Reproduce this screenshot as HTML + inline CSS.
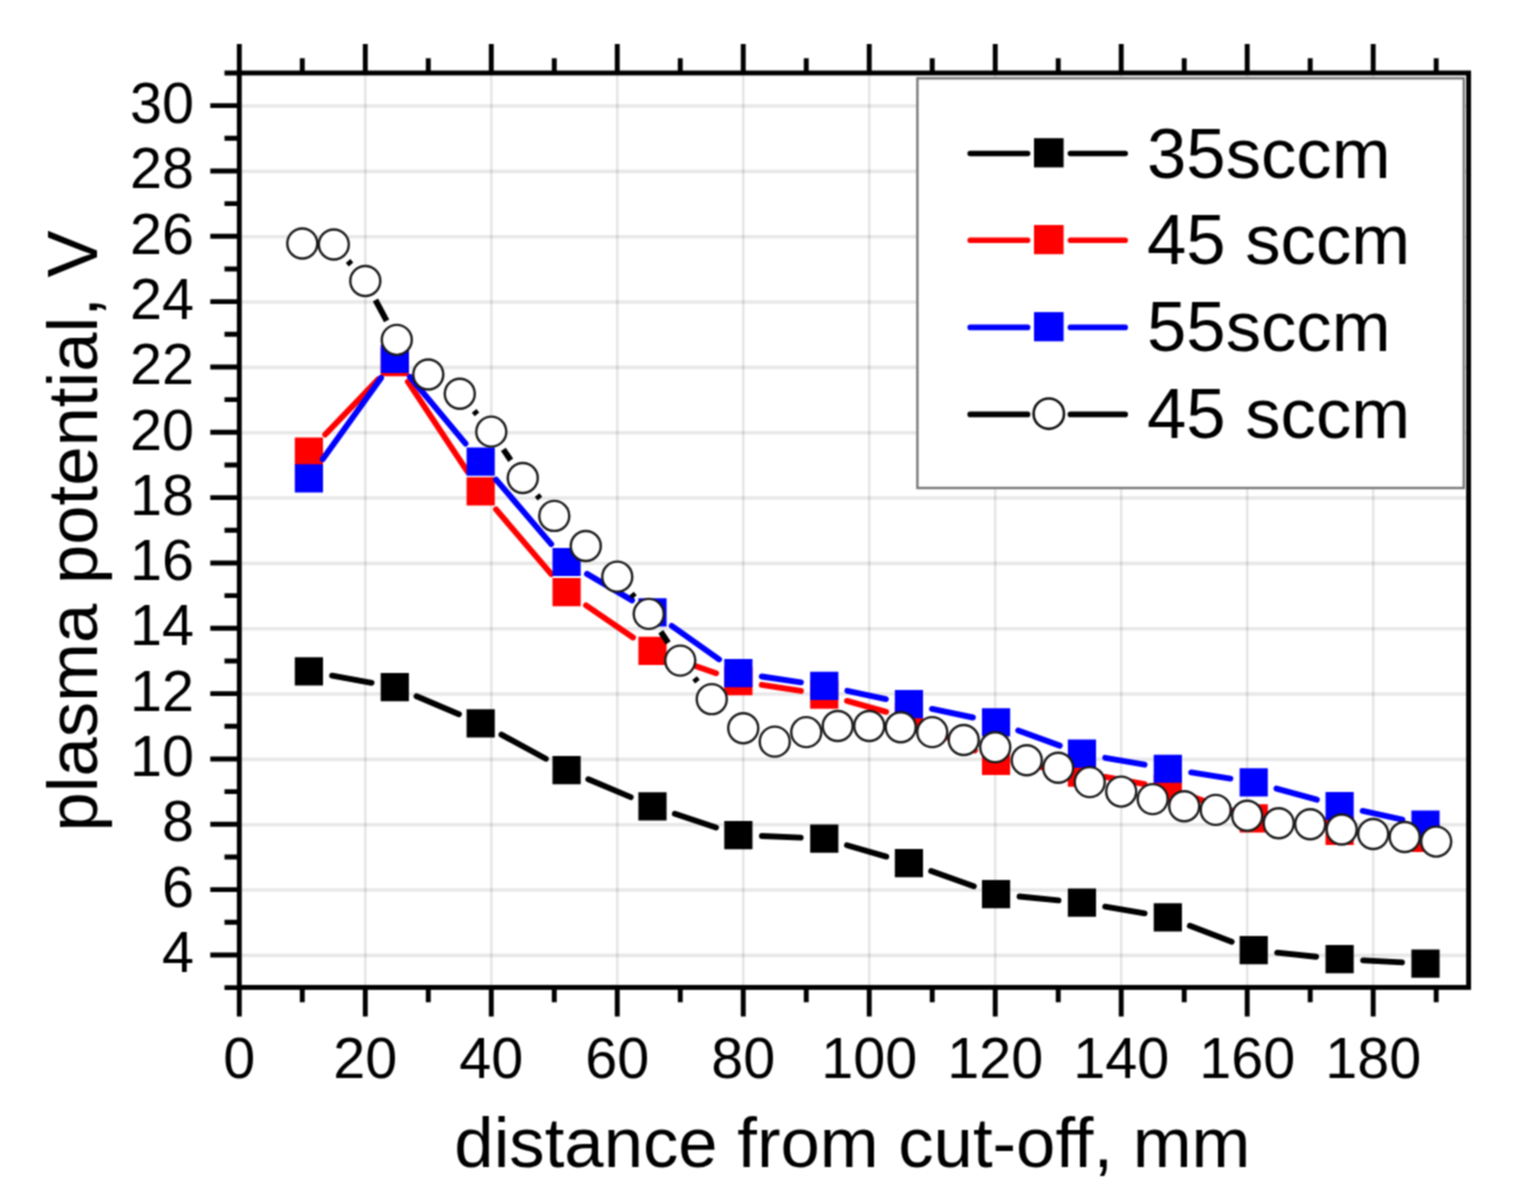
<!DOCTYPE html>
<html><head><meta charset="utf-8"><title>plasma potential</title>
<style>
html,body{margin:0;padding:0;background:#fff;}
body{width:1520px;height:1204px;overflow:hidden;}
svg{display:block;font-family:"Liberation Sans",Arial,sans-serif;}
text{fill:#000;}
</style></head><body>
<svg width="1520" height="1204" viewBox="0 0 1520 1204">
<defs><filter id="soft" x="0" y="0" width="1" height="1" filterUnits="objectBoundingBox" color-interpolation-filters="sRGB"><feConvolveMatrix order="3" kernelMatrix="1 2 1 2 4 2 1 2 1" edgeMode="duplicate"/></filter></defs>
<g filter="url(#soft)">
<rect width="1520" height="1204" fill="#fff"/>
<path d="M365.29 72.98V987.40M491.28 72.98V987.40M617.26 72.98V987.40M743.25 72.98V987.40M869.24 72.98V987.40M995.23 72.98V987.40M1121.22 72.98V987.40M1247.20 72.98V987.40M1373.19 72.98V987.40" stroke="#000" stroke-opacity="0.10" stroke-width="2.5" fill="none"/>
<path d="M239.30 955.34H1468.60M239.30 890.00H1468.60M239.30 824.68H1468.60M239.30 759.35H1468.60M239.30 694.01H1468.60M239.30 628.69H1468.60M239.30 563.36H1468.60M239.30 498.03H1468.60M239.30 432.70H1468.60M239.30 367.37H1468.60M239.30 302.03H1468.60M239.30 236.71H1468.60M239.30 171.38H1468.60M239.30 106.05H1468.60" stroke="#000" stroke-opacity="0.09" stroke-width="3.6" fill="none"/>
<path d="M332.12 675.64L371.58 682.84M416.54 696.26L458.95 714.16M501.43 734.62L545.85 758.78M588.33 779.23L630.74 797.13M674.86 813.80L715.99 827.56M761.95 836.04L800.68 837.66M846.93 845.21L886.26 856.59M931.16 871.07L973.82 886.26M1019.53 896.50L1058.45 900.35M1105.20 906.65L1144.57 913.39M1189.88 925.80L1231.68 941.77M1277.20 952.65L1316.14 956.73M1363.19 960.39L1401.94 962.38" stroke="#000" stroke-width="5.9" stroke-linecap="round" fill="none"/>
<path d="M294.81 657.30h28.2v28.2h-28.2zM380.70 672.98h28.2v28.2h-28.2zM466.59 709.24h28.2v28.2h-28.2zM552.49 755.95h28.2v28.2h-28.2zM638.38 792.21h28.2v28.2h-28.2zM724.27 820.95h28.2v28.2h-28.2zM810.16 824.55h28.2v28.2h-28.2zM894.83 849.05h28.2v28.2h-28.2zM981.95 880.08h28.2v28.2h-28.2zM1067.84 888.57h28.2v28.2h-28.2zM1153.73 903.27h28.2v28.2h-28.2zM1239.62 936.10h28.2v28.2h-28.2zM1325.52 945.08h28.2v28.2h-28.2zM1411.41 949.49h28.2v28.2h-28.2z" fill="#000"/>
<path d="M325.25 434.54L378.46 379.09M407.86 381.73L467.64 471.76M496.02 509.37L551.26 574.08M586.06 605.36L633.00 637.49M674.73 658.69L716.12 673.33M761.69 684.84L800.94 690.96M847.00 700.91L886.19 711.80M930.11 728.52L974.86 750.50M1019.43 764.11L1058.56 769.46M1105.16 776.90L1144.62 784.11M1190.11 796.14L1231.45 810.60M1277.08 821.77L1316.26 827.43M1363.13 832.78L1401.99 836.03" stroke="#f00" stroke-width="5.9" stroke-linecap="round" fill="none"/>
<path d="M294.81 437.47h28.2v28.2h-28.2zM380.70 347.97h28.2v28.2h-28.2zM466.59 477.32h28.2v28.2h-28.2zM552.49 577.93h28.2v28.2h-28.2zM638.38 636.72h28.2v28.2h-28.2zM724.27 667.10h28.2v28.2h-28.2zM810.16 680.49h28.2v28.2h-28.2zM894.83 704.01h28.2v28.2h-28.2zM981.95 746.80h28.2v28.2h-28.2zM1067.84 758.56h28.2v28.2h-28.2zM1153.73 774.24h28.2v28.2h-28.2zM1239.62 804.30h28.2v28.2h-28.2zM1325.52 816.71h28.2v28.2h-28.2zM1411.41 823.89h28.2v28.2h-28.2z" fill="#f00"/>
<path d="M322.68 459.19L381.03 377.97M409.92 376.92L465.57 443.58M496.05 479.62L551.23 544.05M586.95 573.90L632.11 600.35M671.74 625.91L719.10 659.41M761.71 676.50L800.92 682.31M847.33 690.76L885.86 699.08M932.02 708.92L972.95 717.51M1018.22 730.45L1059.77 745.63M1105.19 757.79L1144.58 764.68M1191.14 772.42L1230.41 778.62M1276.47 788.57L1316.87 799.71M1362.68 810.98L1402.44 819.60" stroke="#00f" stroke-width="5.9" stroke-linecap="round" fill="none"/>
<path d="M294.81 464.25h28.2v28.2h-28.2zM380.70 344.70h28.2v28.2h-28.2zM466.59 447.59h28.2v28.2h-28.2zM552.49 547.88h28.2v28.2h-28.2zM638.38 598.18h28.2v28.2h-28.2zM724.27 658.94h28.2v28.2h-28.2zM810.16 671.68h28.2v28.2h-28.2zM894.83 689.97h28.2v28.2h-28.2zM981.95 708.26h28.2v28.2h-28.2zM1067.84 739.62h28.2v28.2h-28.2zM1153.73 754.64h28.2v28.2h-28.2zM1239.62 768.20h28.2v28.2h-28.2zM1325.52 791.88h28.2v28.2h-28.2zM1411.41 810.50h28.2v28.2h-28.2z" fill="#00f"/>
<path d="M348.04 261.02L351.04 264.51M375.44 300.01L386.63 320.90M474.06 410.93L477.00 414.46M503.35 449.43L510.69 460.24M537.05 495.20L539.99 498.74M631.53 593.54L634.50 597.05M660.78 631.74L668.24 642.80M694.55 678.11L697.46 681.68" stroke="#000" stroke-width="5.9" stroke-linecap="butt" fill="none"/>
<g fill="#fff" stroke="#1a1a1a" stroke-width="2.40"><circle cx="302.29" cy="243.49" r="15.0"/><circle cx="333.79" cy="244.47" r="15.0"/><circle cx="365.29" cy="281.06" r="15.0"/><circle cx="396.79" cy="339.85" r="15.0"/><circle cx="428.28" cy="374.48" r="15.0"/><circle cx="459.78" cy="393.75" r="15.0"/><circle cx="491.28" cy="431.64" r="15.0"/><circle cx="522.77" cy="478.03" r="15.0"/><circle cx="554.27" cy="515.92" r="15.0"/><circle cx="585.77" cy="545.97" r="15.0"/><circle cx="617.26" cy="576.67" r="15.0"/><circle cx="648.76" cy="613.91" r="15.0"/><circle cx="680.26" cy="660.62" r="15.0"/><circle cx="711.76" cy="699.17" r="15.0"/><circle cx="743.25" cy="728.24" r="15.0"/><circle cx="774.75" cy="741.63" r="15.0"/><circle cx="806.25" cy="732.16" r="15.0"/><circle cx="837.74" cy="725.95" r="15.0"/><circle cx="869.24" cy="725.95" r="15.0"/><circle cx="900.74" cy="727.26" r="15.0"/><circle cx="932.23" cy="732.16" r="15.0"/><circle cx="963.73" cy="740.00" r="15.0"/><circle cx="995.23" cy="747.19" r="15.0"/><circle cx="1026.73" cy="760.25" r="15.0"/><circle cx="1058.22" cy="767.76" r="15.0"/><circle cx="1089.72" cy="782.14" r="15.0"/><circle cx="1121.22" cy="791.61" r="15.0"/><circle cx="1152.71" cy="799.12" r="15.0"/><circle cx="1184.21" cy="806.31" r="15.0"/><circle cx="1215.71" cy="809.90" r="15.0"/><circle cx="1247.20" cy="815.78" r="15.0"/><circle cx="1278.70" cy="823.30" r="15.0"/><circle cx="1310.20" cy="824.28" r="15.0"/><circle cx="1341.69" cy="829.50" r="15.0"/><circle cx="1373.19" cy="834.07" r="15.0"/><circle cx="1404.69" cy="837.01" r="15.0"/><circle cx="1436.19" cy="841.59" r="15.0"/></g>
<rect x="917.4" y="78.3" width="546.40" height="409.70" fill="#fff" stroke="#7a7a7a" stroke-width="2.4"/>
<path d="M970.2 153.5H1027.6M1070.4 153.5H1125.2" stroke="#000" stroke-width="5.6" stroke-linecap="round" fill="none"/>
<rect x="1034.0" y="138.20000000000002" width="29.6" height="29.2" fill="#000"/>
<text x="1147" y="177.5" font-size="70.7">35sccm</text>
<path d="M970.2 240.3H1027.6M1070.4 240.3H1125.2" stroke="#f00" stroke-width="5.6" stroke-linecap="round" fill="none"/>
<rect x="1034.0" y="225.0" width="29.6" height="29.2" fill="#f00"/>
<text x="1147" y="264.3" font-size="70.7">45 sccm</text>
<path d="M970.2 327.4H1027.6M1070.4 327.4H1125.2" stroke="#00f" stroke-width="5.6" stroke-linecap="round" fill="none"/>
<rect x="1034.0" y="312.09999999999997" width="29.6" height="29.2" fill="#00f"/>
<text x="1147" y="351.4" font-size="70.7">55sccm</text>
<path d="M970.2 414.4H1027.6M1070.4 414.4H1125.2" stroke="#000" stroke-width="5.6" stroke-linecap="round" fill="none"/>
<circle cx="1048.8" cy="413.7" r="15.2" fill="#fff" stroke="#111" stroke-width="2.6"/>
<text x="1147" y="438.4" font-size="70.7">45 sccm</text>
<rect x="239.30" y="72.98" width="1229.30" height="914.42" fill="none" stroke="#000" stroke-width="4.9"/>
<path d="M239.30 987.40V1016.40M239.30 72.98V43.98M302.29 987.40V1002.20M302.29 72.98V58.18M365.29 987.40V1016.40M365.29 72.98V43.98M428.28 987.40V1002.20M428.28 72.98V58.18M491.28 987.40V1016.40M491.28 72.98V43.98M554.27 987.40V1002.20M554.27 72.98V58.18M617.26 987.40V1016.40M617.26 72.98V43.98M680.26 987.40V1002.20M680.26 72.98V58.18M743.25 987.40V1016.40M743.25 72.98V43.98M806.25 987.40V1002.20M806.25 72.98V58.18M869.24 987.40V1016.40M869.24 72.98V43.98M932.23 987.40V1002.20M932.23 72.98V58.18M995.23 987.40V1016.40M995.23 72.98V43.98M1058.22 987.40V1002.20M1058.22 72.98V58.18M1121.22 987.40V1016.40M1121.22 72.98V43.98M1184.21 987.40V1002.20M1184.21 72.98V58.18M1247.20 987.40V1016.40M1247.20 72.98V43.98M1310.20 987.40V1002.20M1310.20 72.98V58.18M1373.19 987.40V1016.40M1373.19 72.98V43.98M1436.19 987.40V1002.20M1436.19 72.98V58.18M239.30 987.60H224.50M239.30 954.94H210.30M239.30 922.27H224.50M239.30 889.61H210.30M239.30 856.94H224.50M239.30 824.28H210.30M239.30 791.61H224.50M239.30 758.95H210.30M239.30 726.28H224.50M239.30 693.62H210.30M239.30 660.95H224.50M239.30 628.29H210.30M239.30 595.62H224.50M239.30 562.96H210.30M239.30 530.29H224.50M239.30 497.63H210.30M239.30 464.96H224.50M239.30 432.30H210.30M239.30 399.63H224.50M239.30 366.97H210.30M239.30 334.30H224.50M239.30 301.63H210.30M239.30 268.97H224.50M239.30 236.31H210.30M239.30 203.64H224.50M239.30 170.98H210.30M239.30 138.31H224.50M239.30 105.65H210.30M239.30 72.98H224.50" stroke="#000" stroke-width="4.9" fill="none"/>
<text x="239.30" y="1078" font-size="57.5" text-anchor="middle">0</text>
<text x="365.29" y="1078" font-size="57.5" text-anchor="middle">20</text>
<text x="491.28" y="1078" font-size="57.5" text-anchor="middle">40</text>
<text x="617.26" y="1078" font-size="57.5" text-anchor="middle">60</text>
<text x="743.25" y="1078" font-size="57.5" text-anchor="middle">80</text>
<text x="869.24" y="1078" font-size="57.5" text-anchor="middle">100</text>
<text x="995.23" y="1078" font-size="57.5" text-anchor="middle">120</text>
<text x="1121.22" y="1078" font-size="57.5" text-anchor="middle">140</text>
<text x="1247.20" y="1078" font-size="57.5" text-anchor="middle">160</text>
<text x="1373.19" y="1078" font-size="57.5" text-anchor="middle">180</text>
<text x="194" y="972.14" font-size="57.5" text-anchor="end">4</text>
<text x="194" y="906.81" font-size="57.5" text-anchor="end">6</text>
<text x="194" y="841.48" font-size="57.5" text-anchor="end">8</text>
<text x="194" y="776.15" font-size="57.5" text-anchor="end">10</text>
<text x="194" y="710.82" font-size="57.5" text-anchor="end">12</text>
<text x="194" y="645.49" font-size="57.5" text-anchor="end">14</text>
<text x="194" y="580.16" font-size="57.5" text-anchor="end">16</text>
<text x="194" y="514.83" font-size="57.5" text-anchor="end">18</text>
<text x="194" y="449.50" font-size="57.5" text-anchor="end">20</text>
<text x="194" y="384.17" font-size="57.5" text-anchor="end">22</text>
<text x="194" y="318.83" font-size="57.5" text-anchor="end">24</text>
<text x="194" y="253.51" font-size="57.5" text-anchor="end">26</text>
<text x="194" y="188.18" font-size="57.5" text-anchor="end">28</text>
<text x="194" y="122.85" font-size="57.5" text-anchor="end">30</text>
<text x="852.4" y="1166.8" font-size="70.7" text-anchor="middle">distance from cut-off, mm</text>
<text transform="translate(97.3 531.0) rotate(-90)" font-size="70.7" text-anchor="middle">plasma potential, V</text>
</g>
</svg>
</body></html>
